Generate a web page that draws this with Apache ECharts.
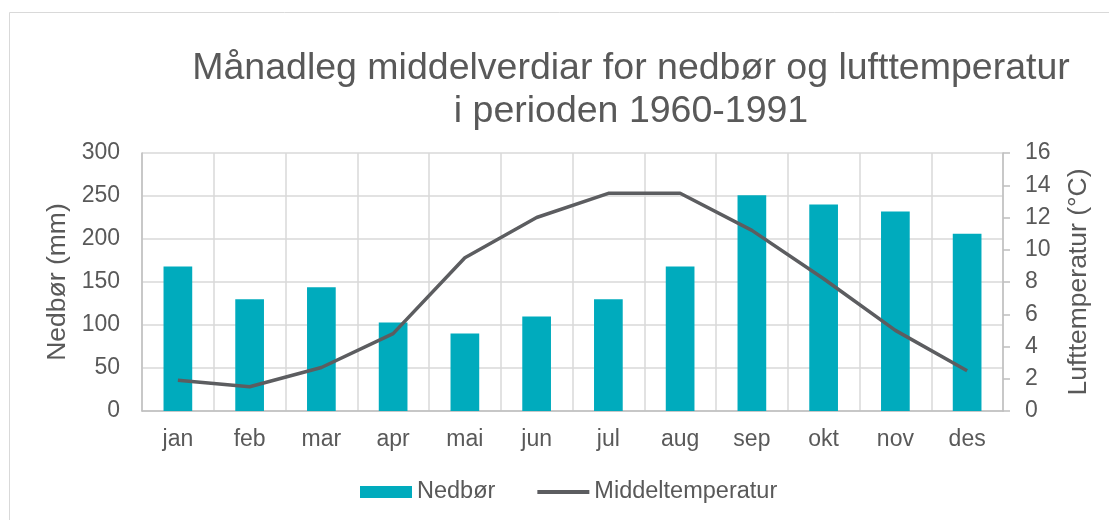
<!DOCTYPE html>
<html>
<head>
<meta charset="utf-8">
<script src="https://cdn.jsdelivr.net/npm/echarts@6/dist/echarts.min.js"></script>
<style>
  html, body { margin: 0; padding: 0; background: #fff; }
  #main { width: 1109px; height: 520px; }
</style>
</head>
<body>
<div id="main"></div>
<script>
// månader
const months = ['jan', 'feb', 'mar', 'apr', 'mai', 'jun', 'jul', 'aug', 'sep', 'okt', 'nov', 'des']
// nedbør (mm)
const nedbor = [168, 130, 144, 103, 90, 110, 130, 168, 251, 240, 232, 206]
// middeltemperatur (°C)
const middeltemp = [1.9, 1.5, 2.7, 4.8, 9.5, 12.0, 13.5, 13.5, 11.2, 8.2, 5.0, 2.5]

const textColor = '#595959'
const font = 'Liberation Sans, Arial, sans-serif'

const chart = echarts.init(document.getElementById('main'), null, { renderer: 'canvas' })

const option = {
  backgroundColor: '#fff',
  animation: false,
  textStyle: { fontFamily: font, color: textColor },
  graphic: [
    {
      type: 'rect',
      shape: { x: 9.5, y: 12.5, width: 1200, height: 600 },
      style: { fill: 'none', stroke: '#d9d9d9', lineWidth: 1 },
      silent: true,
      z: -1,
    },
  ],
  title: {
    text: 'Månadleg middelverdiar for nedbør og lufttemperatur\ni perioden 1960-1991',
    left: 626,
    top: 42,
    textAlign: 'center',
    textStyle: {
      fontFamily: font,
      fontSize: 37.5,
      fontWeight: 'normal',
      color: textColor,
      lineHeight: 43,
    },
  },
  legend: {
    left: 360,
    top: 480,
    padding: 0,
    itemWidth: 52,
    itemHeight: 12,
    itemGap: 40,
    textStyle: { fontFamily: font, fontSize: 23.5, color: textColor },
    data: [
      { name: 'Nedbør', icon: 'rect' },
      // linja utan punktmerke i forklaringa
      { name: 'Middeltemperatur', itemStyle: { opacity: 0 }, lineStyle: { width: 4, color: '#5c5d60' } },
    ],
  },
  grid: {
    left: 142,
    right: 106,
    top: 153,
    bottom: 109,
  },
  xAxis: {
    type: 'category',
    data: months,
    axisLine: { lineStyle: { color: '#bfbfbf', width: 1.5 } },
    axisTick: { show: false },
    axisLabel: { fontFamily: font, fontSize: 23, color: textColor, margin: 17 },
    splitLine: { show: true, lineStyle: { color: '#d9d9d9', width: 1.5 } },
  },
  yAxis: [
    {
      type: 'value',
      min: 0,
      max: 300,
      interval: 50,
      name: 'Nedbør (mm)',
      nameLocation: 'middle',
      nameGap: 70,
      nameTextStyle: { fontFamily: font, fontSize: 26.5, color: textColor },
      axisLine: { show: true, lineStyle: { color: '#bfbfbf', width: 1.5 } },
      axisTick: { show: false },
      axisLabel: { fontFamily: font, fontSize: 23, color: textColor, margin: 22 },
      splitLine: { show: true, lineStyle: { color: '#d9d9d9', width: 1.5 } },
    },
    {
      type: 'value',
      min: 0,
      max: 16,
      interval: 2,
      name: 'Lufttemperatur (°C)',
      nameLocation: 'middle',
      nameGap: 62,
      nameTextStyle: { fontFamily: font, fontSize: 26.5, color: textColor },
      axisLine: { show: true, lineStyle: { color: '#bfbfbf', width: 1.5 } },
      axisTick: { show: true, length: 7, lineStyle: { color: '#bfbfbf', width: 1.5 } },
      axisLabel: { fontFamily: font, fontSize: 23, color: textColor, margin: 22 },
      splitLine: { show: false },
    },
  ],
  series: [
    {
      name: 'Nedbør',
      type: 'bar',
      data: nedbor,
      yAxisIndex: 0,
      barWidth: '40%',
      itemStyle: { color: '#00abbd' },
    },
    {
      name: 'Middeltemperatur',
      type: 'line',
      data: middeltemp,
      yAxisIndex: 1,
      symbol: 'none',
      lineStyle: { color: '#5c5d60', width: 3.5 },
      itemStyle: { color: '#5c5d60' },
    },
  ],
}

chart.setOption(option)
</script>
</body>
</html>
